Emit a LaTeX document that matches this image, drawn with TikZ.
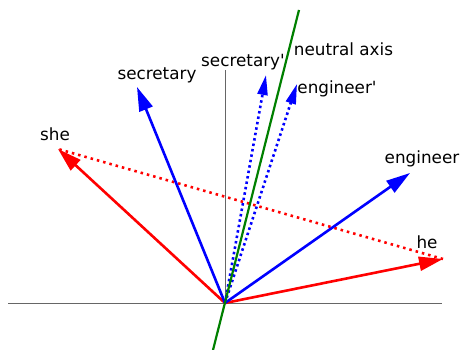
\documentclass[tikz,border=0pt]{standalone}
\usepackage{fontspec}
\setmainfont{DejaVu Sans}
\usetikzlibrary{arrows.meta}
\begin{document}
\begin{tikzpicture}[x=1pt,y=-1pt,
  axisline/.style={draw=black!60,line width=0.8pt},
  vec/.style={line width=2.6pt,-{Triangle[length=24pt,width=14pt]}},
  dvec/.style={line width=2.6pt,dash pattern=on 2.5pt off 3pt,-{Triangle[length=20pt,width=10pt]}},
  lbl/.style={font=\fontsize{16.8}{19}\selectfont,inner sep=0pt,anchor=base}]
\useasboundingbox (0,0) rectangle (460,350);
\coordinate (O) at (225,303);
\coordinate (xl) at (8,303);
\coordinate (xr) at (442,303);
\coordinate (yt) at (225,70);
\coordinate (gt) at (299,10);
\coordinate (gb) at (213,350);
\coordinate (she) at (58,149);
\coordinate (sec) at (137,87);
\coordinate (secp) at (266,75);
\coordinate (engp) at (297,84);
\coordinate (eng) at (410,173);
\coordinate (he) at (443,259);
\draw[axisline] (xl) -- (xr);
\draw[axisline] (yt) -- (O);
\draw[red,line width=2.6pt,dash pattern=on 2.5pt off 4pt] (he) -- (she);
\draw[vec,red] (O) -- (she);
\draw[vec,red] (O) -- (he);
\draw[vec,blue] (O) -- (sec);
\draw[vec,blue] (O) -- (eng);
\draw[dvec,blue] (O) -- (secp);
\draw[dvec,blue] (O) -- (engp);
\draw[green!50!black,line width=2.2pt] (gb) -- (gt);
\node[lbl] (lshe) at (55,140) {she};
\node[lbl] (lsec) at (157,80) {secretary};
\node[lbl] (lsecp) at (243,67) {secretary\textquotesingle};
\node[lbl] (lneu) at (343.5,56) {neutral axis};
\node[lbl] (lengp) at (337,94) {engineer\textquotesingle};
\node[lbl] (leng) at (422,163) {engineer};
\node[lbl] (lhe) at (427,248) {he};
\end{tikzpicture}
\end{document}
